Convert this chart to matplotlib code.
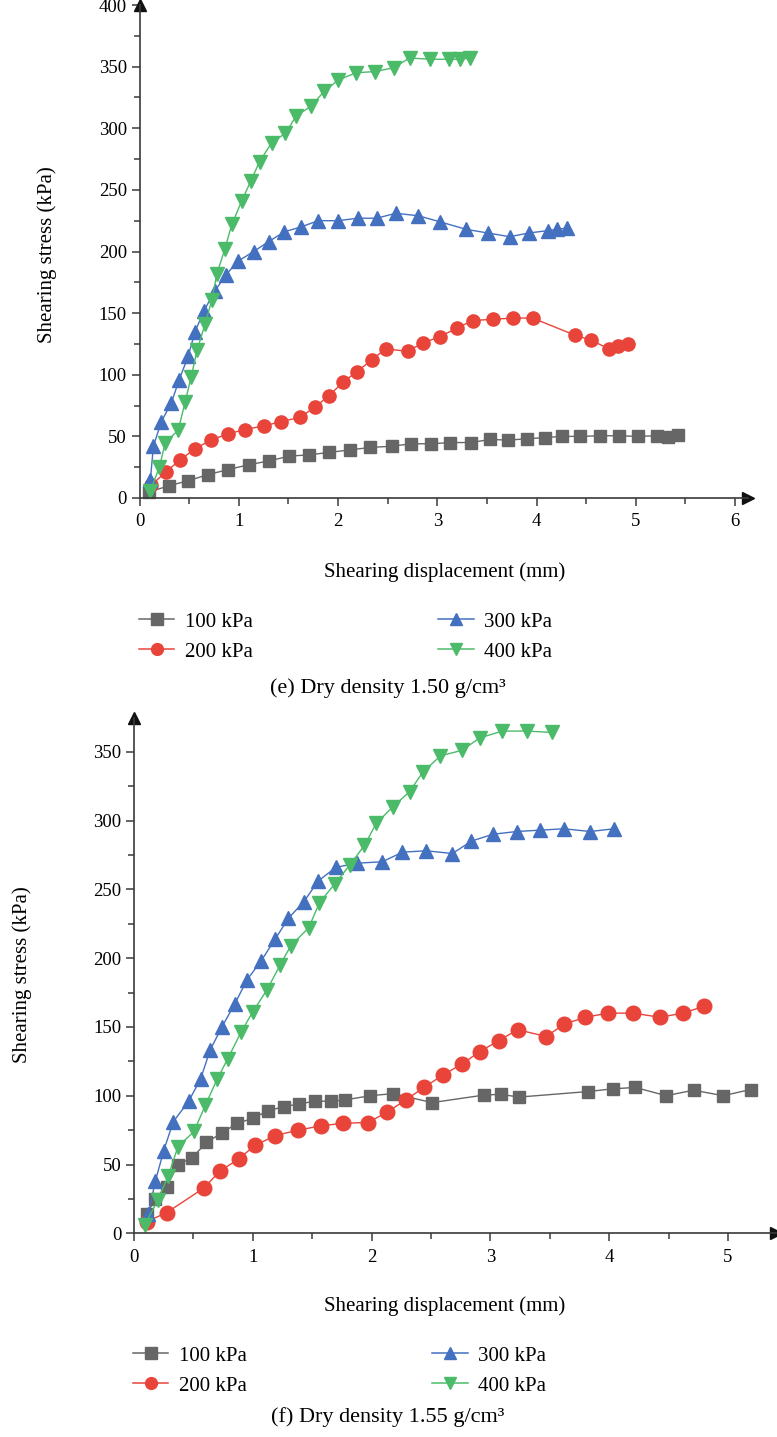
import matplotlib
matplotlib.use("Agg")
import matplotlib.pyplot as plt
from matplotlib.ticker import MultipleLocator
from matplotlib.lines import Line2D

# ---------------------------------------------------------------- data ---- #

LABELS = ["100 kPa", "200 kPa", "300 kPa", "400 kPa"]
COLORS = ["#666666", "#e8443a", "#4470c0", "#4bbb69"]
MARKERS = ["s", "o", "^", "v"]

# (e) dry density 1.50 g/cm3
e_x100 = [0.10, 0.30, 0.49, 0.69, 0.89, 1.10, 1.30, 1.51, 1.71, 1.91, 2.12, 2.32, 2.54, 2.74, 2.94,
          3.13, 3.34, 3.53, 3.71, 3.90, 4.08, 4.26, 4.44, 4.64, 4.83, 5.02, 5.21, 5.32, 5.42]
e_y100 = [5, 10, 14, 19, 23, 27, 30, 34, 35, 37, 39, 41, 42, 44, 44,
          45, 45, 47.5, 47, 48, 49, 50, 50, 50.5, 50.5, 50, 50.5, 49.5, 51]
e_x200 = [0.12, 0.27, 0.41, 0.56, 0.72, 0.89, 1.06, 1.25, 1.43, 1.62, 1.77, 1.91, 2.05, 2.19, 2.34,
          2.48, 2.70, 2.86, 3.03, 3.20, 3.36, 3.56, 3.76, 3.96, 4.39, 4.55, 4.73, 4.82, 4.92]
e_y200 = [10.5, 21.5, 31, 40, 47, 52, 55.5, 58.5, 62, 65.5, 74, 83, 94, 102.5, 112,
          121, 119, 126, 131, 138, 144, 145, 146, 146, 132, 128, 121, 123, 125]
e_x300 = [0.11, 0.14, 0.22, 0.32, 0.40, 0.49, 0.56, 0.65, 0.76, 0.87, 0.99, 1.15, 1.30, 1.46, 1.63,
          1.80, 2.00, 2.20, 2.39, 2.58, 2.81, 3.03, 3.29, 3.51, 3.73, 3.92, 4.12, 4.21, 4.31]
e_y300 = [15, 42, 62, 77, 96, 115, 135, 152, 168, 181, 192, 200, 208, 216, 220,
          225, 225, 227, 227, 231, 229, 224, 218, 215, 212, 215, 217, 218, 219]
e_x400 = [0.11, 0.20, 0.26, 0.39, 0.46, 0.52, 0.58, 0.66, 0.73, 0.78, 0.86, 0.93, 1.03, 1.12, 1.21,
          1.33, 1.47, 1.58, 1.73, 1.86, 2.00, 2.18, 2.37, 2.56, 2.72, 2.93, 3.12, 3.23, 3.33]
e_y400 = [6, 25, 45, 55, 78, 98, 120, 141, 161, 182, 202, 222, 241, 257, 273,
          288, 296, 310, 318, 330, 339, 345, 346, 349, 357, 356, 356, 356, 357]

# (f) dry density 1.55 g/cm3
f_x100 = [0.107, 0.18, 0.275, 0.37, 0.49, 0.61, 0.74, 0.87, 1.00, 1.125, 1.26, 1.39, 1.52, 1.66,
          1.78, 1.99, 2.18, 2.51, 2.95, 3.09, 3.24, 3.82, 4.03, 4.22, 4.48, 4.71, 4.96, 5.19]
f_y100 = [14, 25, 34, 50, 55, 66, 73, 80, 83.5, 89, 92, 94, 96, 96,
          97, 100, 101.5, 95, 100.5, 101, 99, 103, 105, 106, 100, 104, 100, 104.5]
f_x200 = [0.107, 0.275, 0.59, 0.72, 0.88, 1.02, 1.19, 1.38, 1.57, 1.76, 1.97, 2.13, 2.29, 2.44,
          2.60, 2.76, 2.91, 3.07, 3.23, 3.47, 3.62, 3.80, 3.99, 4.20, 4.43, 4.62, 4.80]
f_y200 = [8.5, 15, 33, 45, 54, 64, 71, 75, 78, 80, 80.5, 88, 97, 106,
          115, 123, 132, 140, 148, 143, 152, 157, 160, 160, 157, 160, 165]
f_x300 = [0.12, 0.18, 0.25, 0.33, 0.46, 0.56, 0.64, 0.74, 0.85, 0.95, 1.07, 1.19, 1.30, 1.43,
          1.55, 1.70, 1.88, 2.09, 2.26, 2.46, 2.68, 2.84, 3.02, 3.22, 3.42, 3.62, 3.84, 4.04]
f_y300 = [14, 38, 60, 81, 96, 112, 133, 150, 167, 184, 198, 214, 229, 241,
          256, 266, 269, 270, 277, 278, 276, 285, 290, 292, 293, 294, 292, 294]
f_x400 = [0.09, 0.20, 0.29, 0.37, 0.505, 0.60, 0.70, 0.79, 0.90, 1.00, 1.12, 1.23, 1.32, 1.47,
          1.56, 1.69, 1.82, 1.94, 2.04, 2.18, 2.32, 2.43, 2.58, 2.76, 2.91, 3.10, 3.31, 3.52]
f_y400 = [6, 24, 42, 63, 74, 93, 112, 127, 146, 161, 177, 195, 209, 222,
          240, 254, 268, 282, 298, 310, 321, 335, 347, 351, 360, 365, 365, 364]

# --------------------------------------------------------------- style ---- #

plt.rcParams["font.family"] = ["Liberation Serif", "DejaVu Serif"]
SPINE = "#3a3a3a"
W, H = 777, 1437
FS_TXT = 15
FS_CAP = 16
FS_TICK = 13.5

fig = plt.figure(figsize=(W / 100, H / 100), dpi=100)


def px_axes(x0, y0, x1, y1):
    # axes from pixel box (left, top, right, bottom)
    return fig.add_axes([x0 / W, 1 - y1 / H, (x1 - x0) / W, (y1 - y0) / H])


def habiller(ax, xmax, ymax, ymaj):
    ax.set_xlim(0, xmax)
    ax.set_ylim(0, ymax)
    for s in ["top", "right"]:
        ax.spines[s].set_visible(False)
    for s in ["left", "bottom"]:
        ax.spines[s].set_color(SPINE)
        ax.spines[s].set_linewidth(1.2)
    ax.xaxis.set_major_locator(MultipleLocator(1))
    ax.xaxis.set_minor_locator(MultipleLocator(0.5))
    ax.yaxis.set_major_locator(MultipleLocator(ymaj))
    ax.yaxis.set_minor_locator(MultipleLocator(25))
    ax.tick_params(which="major", direction="out", length=6, width=1.1, color=SPINE,
                   labelsize=FS_TICK, pad=3)
    ax.tick_params(which="minor", direction="out", length=4, width=1.1, color=SPINE)
    ax.tick_params(axis="x", which="major", pad=5)
    # fleches au bout des axes
    ax.plot(1, 0, ">", color="#111111", ms=9, transform=ax.transAxes, clip_on=False)
    ax.plot(0, 1, "^", color="#111111", ms=9, transform=ax.transAxes, clip_on=False)


def tracer(ax, series, ms):
    for (x, y), lab, c, m, s in zip(series, LABELS, COLORS, MARKERS, ms):
        ax.plot(x, y, color=c, marker=m, ms=s, lw=1.0, mec=c, label=lab, clip_on=False)


def legende(y_top, x_left):
    handles = [Line2D([], [], color=c, marker=m, ms=8.5, lw=1.1) for c, m in zip(COLORS, MARKERS)]
    fig.legend(handles, LABELS, ncol=2, frameon=False, fontsize=FS_TXT,
               loc="upper left", bbox_to_anchor=(x_left / W, 1 - y_top / H),
               handlelength=1.7, handletextpad=0.5, columnspacing=8.9,
               labelspacing=0.5, borderaxespad=0, borderpad=0)


# (e)
ax1 = px_axes(139.5, 5, 748, 498)
habiller(ax1, 6.13, 400, 50)
tracer(ax1, [(e_x100, e_y100), (e_x200, e_y200), (e_x300, e_y300), (e_x400, e_y400)],
       [8, 9.5, 9.5, 9.5])
fig.text(47 / W, 1 - 255 / H, "Shearing stress (kPa)", rotation=90, ha="center", va="center",
         fontsize=FS_TXT)
fig.text(445 / W, 1 - 572 / H, "Shearing displacement (mm)", ha="center", va="center",
         fontsize=FS_TXT)
legende(612, 139)
fig.text(388 / W, 1 - 688 / H, "(e) Dry density 1.50 g/cm³", ha="center", va="center",
         fontsize=FS_CAP)

# (f)
ax2 = px_axes(134, 718, 775.5, 1233.3)
habiller(ax2, 5.4, 374.5, 50)
tracer(ax2, [(f_x100, f_y100), (f_x200, f_y200), (f_x300, f_y300), (f_x400, f_y400)],
       [9, 10.5, 10.5, 10.5])
fig.text(22 / W, 1 - 975 / H, "Shearing stress (kPa)", rotation=90, ha="center", va="center",
         fontsize=FS_TXT)
fig.text(445 / W, 1 - 1306 / H, "Shearing displacement (mm)", ha="center", va="center",
         fontsize=FS_TXT)
legende(1346, 133)
fig.text(388 / W, 1 - 1417 / H, "(f) Dry density 1.55 g/cm³", ha="center", va="center",
         fontsize=FS_CAP)

fig.savefig("out.png", dpi=100)
